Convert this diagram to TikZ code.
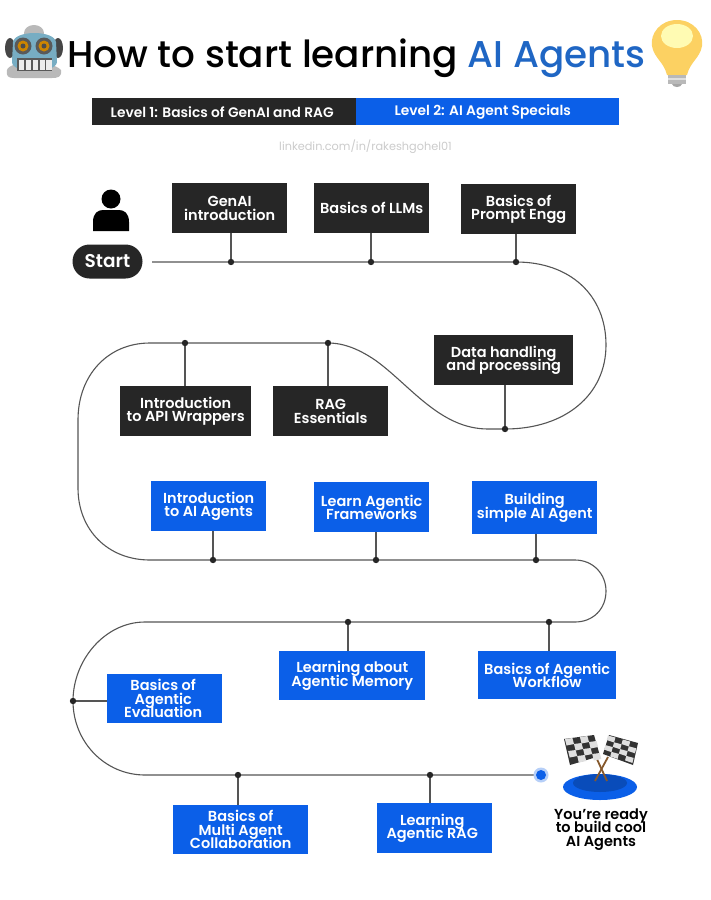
\documentclass[tikz,border=0pt]{standalone}
\usepackage{fontspec}
\setmainfont{Poppins}
\newfontfamily\semi{Poppins SemiBold}
\newfontfamily\med{Poppins Medium}
\usetikzlibrary{calc}
\definecolor{dk}{HTML}{262626}
\definecolor{bl}{HTML}{0B5FE8}
\definecolor{ttl}{HTML}{1F66C4}
\definecolor{ln}{HTML}{555555}
\tikzset{
 x=1pt,y=-1pt,
 dkbox/.style={fill=dk,text=white,font=\semi\fontsize{14.5}{13.5}\selectfont,align=center,inner sep=0pt,anchor=north west},
 blbox/.style={dkbox,fill=bl},
 stem/.style={draw=ln,line width=1.1pt},
 track/.style={draw=ln,line width=1.1pt},
}
\newcommand{\bx}[7]{\node[#1,minimum width=#4 pt-#2 pt,minimum height=#5 pt-#3 pt] (#6) at (#2,#3) {#7};}
\begin{document}
\lineskiplimit=-100pt\relax
\begin{tikzpicture}
\useasboundingbox (0,0) rectangle (711,900);
\fill[white] (0,0) rectangle (711,900);
% title
\node[anchor=west,inner sep=0pt,font=\med\fontsize{37.3}{44}\selectfont] (title) at (67,58) {How to start learning \textcolor{ttl}{AI Agents}};
% robot
\begin{scope}
\fill[gray!55] (34,33) ellipse (10 and 8);
\fill[black!45!gray] (10,48) ellipse (5 and 10);
\fill[black!45!gray] (58,48) ellipse (5 and 10);
\fill[gray!55!white] (7,70) .. controls (10,60) and (52,60) .. (61,70) .. controls (62,77) and (58,78) .. (52,78) -- (14,78) .. controls (8,78) and (6,76) .. (7,70) -- cycle;
\fill[cyan!45!gray!90!white] (13,42) .. controls (15,30) and (54,30) .. (56,42) -- (57,62) .. controls (56,74) and (12,74) .. (12,62) -- cycle;
\foreach \cx in {23,44}{
 \fill[gray!70!black] (\cx,46) circle (8.5);
 \fill[orange!70!yellow!80!black] (\cx,46) circle (5.5);
 \fill[black!70] (\cx,46) circle (2.5);
}
\fill[black!65] (17,58) rectangle (52,71);
\foreach \tx in {18.5,25.5,32.5,39.5,46}{\fill[gray!15] (\tx,59.5) rectangle (\tx+5.5,69.5);}
\end{scope}
% bulb
\fill[yellow!45!orange!60!white] (677,20) .. controls (660,20) and (650,34) .. (652,46) .. controls (654,58) and (664,62) .. (667,75) -- (687,75) .. controls (690,62) and (700,58) .. (702,46) .. controls (704,34) and (694,20) .. (677,20) -- cycle;
\fill[yellow!30!white] (677,36) ellipse (16 and 12);
\fill[gray!55] (668,75) rectangle (686,84);
\fill[gray!25] (668,78) rectangle (686,80);
\fill[gray!70] (672,84) .. controls (673,88) and (681,88) .. (682,84) -- cycle;
% level bar
\node[dkbox,minimum width=264pt,minimum height=27pt,font=\semi\fontsize{13.8}{15}\selectfont] (lev1) at (92,98) {\hspace*{-4pt}Level 1: Basics of GenAI and RAG};
\node[blbox,minimum width=263pt,minimum height=27pt,font=\semi\fontsize{13.8}{15}\selectfont] (lev2) at (356,98) {\hspace*{-10pt}Level 2: AI Agent Specials};
\node[text=gray!40,font=\fontsize{11.3}{14}\selectfont,inner sep=0pt] (link) at (365.5,147) {linkedin.com/in/rakeshgohel01};
% person
\fill[black] (111,199) circle (9.5);
\fill[black] (93,231) -- (93,222) .. controls (93,213) and (98,210) .. (103,210) -- (119,210) .. controls (124,210) and (129,213) .. (129,222) -- (129,231) -- cycle;
\node[fill=dk,text=white,rounded corners=17pt,minimum width=70pt,minimum height=34pt,inner sep=0pt,font=\semi\fontsize{18.5}{20}\selectfont] (start) at (107.5,261.5) {Start};
% track coordinates
\coordinate (t0) at (152,262);
\coordinate (d1) at (231,262);
\coordinate (d2) at (371,262);
\coordinate (d3) at (516,262);
\coordinate (d4) at (505,429);
\coordinate (d5) at (328,343);
\coordinate (d6) at (185,343);
\coordinate (d7) at (536,560);
\coordinate (d8) at (376,560);
\coordinate (d9) at (213,560);
\coordinate (d10) at (549,622);
\coordinate (d11) at (348,622);
\coordinate (d12) at (73,701);
\coordinate (d13) at (238,775);
\coordinate (d14) at (430,775);
\coordinate (tend) at (541,775);
\draw[track] (t0) -- (d3)
 .. controls (570,262) and (606,295) .. (606,345)
 .. controls (606,395) and (565,429) .. (d4)
 -- (488,429) .. controls (440,429) and (410,385) .. (375,360)
 .. controls (360,350) and (345,343) .. (d5)
 -- (d6) -- (150,343) .. controls (108,343) and (78,375) .. (78,420)
 -- (78,488) .. controls (78,530) and (108,560) .. (150,560)
 -- (d7) -- (575,560) .. controls (593,560) and (606,574) .. (606,591)
 .. controls (606,609) and (593,622) .. (575,622)
 -- (d10) -- (d11) -- (145,622) .. controls (105,622) and (73,660) .. (d12)
 .. controls (73,742) and (105,775) .. (145,775)
 -- (tend);
% boxes
\bx{dkbox}{172}{183}{287}{233}{b1}{GenAI\\introduction}
\bx{dkbox}{314}{183}{429}{233}{b2}{Basics of LLMs}
\bx{dkbox}{461}{184}{576}{234}{b3}{Basics of\\Prompt Engg}
\bx{dkbox}{434}{335}{573}{385}{b4}{Data handling\\and processing}
\bx{dkbox}{120}{386}{251}{436}{b5}{Introduction\\to API Wrappers}
\bx{dkbox}{273}{386}{388}{436}{b6}{RAG\\Essentials}
\bx{blbox}{151}{481}{266}{531}{b7}{Introduction\\to AI Agents}
\bx{blbox}{314}{482}{429}{532}{b8}{Learn Agentic\\Frameworks}
\bx{blbox}{472}{481}{597}{534}{b9}{Building\\simple AI Agent}
\bx{blbox}{478}{651}{616}{699}{b10}{Basics of Agentic\\Workflow}
\bx{blbox}{279}{651}{425}{700}{b11}{Learning about\\Agentic Memory}
\bx{blbox}{107}{674}{222}{723}{b12}{\hspace*{-3pt}Basics of\\\hspace*{-3pt}Agentic\\\hspace*{-3pt}Evaluation}
\bx{blbox}{173}{805}{308}{854}{b13}{Basics of\\Multi Agent\\Collaboration}
\bx{blbox}{377}{803}{492}{853}{b14}{\hspace*{-5pt}Learning\\\hspace*{-5pt}Agentic RAG}
% stems
\draw[stem] (b1.south-|d1) -- (d1);
\draw[stem] (b2.south-|d2) -- (d2);
\draw[stem] (b3.south-|d3) -- (d3);
\draw[stem] (b4.south-|d4) -- (d4);
\draw[stem] (b6.north-|d5) -- (d5);
\draw[stem] (b5.north-|d6) -- (d6);
\draw[stem] (b7.south-|d9) -- (d9);
\draw[stem] (b8.south-|d8) -- (d8);
\draw[stem] (b9.south-|d7) -- (d7);
\draw[stem] (b10.north-|d10) -- (d10);
\draw[stem] (b11.north-|d11) -- (d11);
\draw[stem] (b12.west|-d12) -- (d12);
\draw[stem] (b13.north-|d13) -- (d13);
\draw[stem] (b14.north-|d14) -- (d14);
\foreach \d in {d1,d2,d3,d4,d5,d6,d7,d8,d9,d10,d11,d12,d13,d14}{\fill[black!85] (\d) circle (3.2);}
\fill[bl!30] (tend) circle (7.5);
\fill[bl] (tend) circle (5);
% flags
\fill[bl] (600,787) ellipse (37 and 13);
\fill[bl!80!black] (600,783) ellipse (27 and 9);
\draw[brown!70!black,line width=1.8pt] (595,781) -- (608,757);
\draw[brown!70!black,line width=1.8pt] (607,781) -- (596,757);
\begin{scope}[shift={(564,739)}]
\fill[black!80] (0,0) -- (30,-4) -- (36,17) -- (6,26) -- cycle;
\foreach \i/\j in {0/0,2/0,1/1,3/1,0/2,2/2,1/3,3/3}{\fill[gray!25] ($(0.9,0)+(\i*7.5,-\i)+(\j*1.6,\j*6)$) -- ++(7.5,-1) -- ++(1.6,6) -- ++(-7.5,1.5) -- cycle;}
\end{scope}
\begin{scope}[shift={(603,735)}]
\fill[black!80] (6,0) -- (35,8) -- (30,30) -- (0,19) -- cycle;
\foreach \i/\j in {0/0,2/0,1/1,3/1,0/2,2/2,1/3,3/3}{\fill[gray!25] ($(5,0.5)+(\i*7.4,\i*2)+(-\j*1.3,\j*4.8)$) -- ++(7.4,2) -- ++(-1.3,5) -- ++(-7.4,-2.5) -- cycle;}
\end{scope}
\node[text=black,align=center,inner sep=0pt,font=\semi\fontsize{14.5}{13.5}\selectfont] (end) at (601,829.5) {You’re ready\\to build cool\\AI Agents};
\end{tikzpicture}
\end{document}
